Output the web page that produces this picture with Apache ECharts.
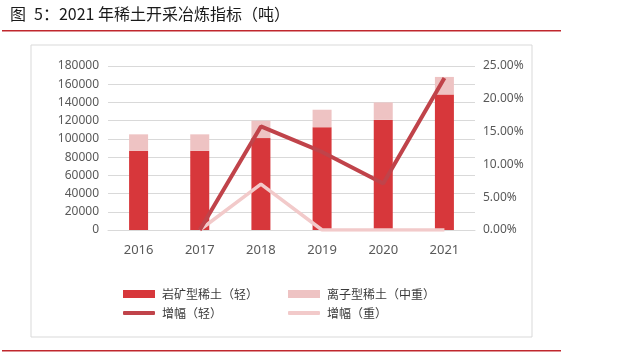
<!DOCTYPE html>
<html>
<head>
<meta charset="utf-8">
<script src="https://cdn.jsdelivr.net/npm/echarts@6/dist/echarts.min.js"></script>
<style>
  html, body { margin: 0; padding: 0; background: #fff; }
  #main { width: 640px; height: 353px; }
</style>
</head>
<body>
<div id="main"></div>
<script>
        // 数据
        var years = ['2016', '2017', '2018', '2019', '2020', '2021'];
        var rockLight = [87100, 87100, 100850, 112850, 120850, 148850];
        var ionHeavy = [17900, 17900, 19150, 19150, 19150, 19150];
        var growthLight = [null, 0, 0.1579, 0.1190, 0.0709, 0.2317];
        var growthHeavy = [null, 0, 0.0698, 0, 0, 0];

        var leftTicks = { min: 0, max: 180000, interval: 20000 };
        var rightTicks = { min: 0, max: 0.25, interval: 0.05 };

        var font = '"Noto Sans", "Noto Sans CJK SC", sans-serif';
        var cjk = '"Noto Sans CJK SC", sans-serif';

        var myChart = echarts.init(document.getElementById('main'));

        // 图例：上排柱，下排线
        var legendText = { fontFamily: cjk, fontSize: 12, color: '#3a3a3a', padding: [0, 0, 0, 2] };
        var makeLegend = function (name, left, top, h, icon) {
            return {
                left: left, top: top, padding: 0, itemGap: 0,
                itemWidth: 32, itemHeight: h, icon: icon,
                textStyle: legendText, data: [name]
            };
        };

        var option = {
            backgroundColor: '#fff',
            animation: false,
            textStyle: { fontFamily: font },
            graphic: [
                { type: 'text', left: 10, top: 6, style: { text: '图\u20025：2021 年稀土开采冶炼指标（吨）', font: '16px ' + cjk, fill: '#1a1a1a' } },
                { type: 'rect', shape: { x: 2, y: 30, width: 559, height: 1.5 }, style: { fill: '#c0272d' } },
                { type: 'rect', shape: { x: 31, y: 45, width: 501, height: 292 }, style: { fill: 'none', stroke: '#d9d9d9', lineWidth: 1 } },
                { type: 'rect', shape: { x: 2, y: 350, width: 559, height: 1.5 }, style: { fill: '#c0272d' } }
            ],
            grid: { left: 108, right: 165, top: 66, bottom: 123 },
            legend: [
                makeLegend('岩矿型稀土（轻）', 123, 288, 8, 'rect'),
                makeLegend('离子型稀土（中重）', 288, 288, 8, 'rect'),
                makeLegend('增幅（轻）', 123, 307, 4, 'roundRect'),
                makeLegend('增幅（重）', 288, 307, 4, 'roundRect')
            ],
            xAxis: {
                type: 'category',
                data: years,
                axisLine: { lineStyle: { color: '#d9d9d9' } },
                axisTick: { show: false },
                axisLabel: { color: '#595959', fontSize: 13, margin: 14 }
            },
            yAxis: [
                {
                    type: 'value',
                    min: leftTicks.min, max: leftTicks.max, interval: leftTicks.interval,
                    axisLine: { show: false },
                    axisTick: { show: false },
                    axisLabel: { color: '#595959', fontSize: 12, margin: 9, formatter: function (v) { return String(v); } },
                    splitLine: { lineStyle: { color: '#d9d9d9' } }
                },
                {
                    type: 'value',
                    min: rightTicks.min, max: rightTicks.max, interval: rightTicks.interval,
                    axisLine: { show: false },
                    axisTick: { show: false },
                    splitLine: { show: false },
                    axisLabel: {
                        color: '#595959', fontSize: 12, margin: 8,
                        formatter: function (v) { return (v * 100).toFixed(2) + '%'; }
                    }
                }
            ],
            series: [
                {
                    name: '岩矿型稀土（轻）', type: 'bar', stack: 'total',
                    barWidth: 19, data: rockLight,
                    itemStyle: { color: '#d7373b' }
                },
                {
                    name: '离子型稀土（中重）', type: 'bar', stack: 'total',
                    barWidth: 19, data: ionHeavy,
                    itemStyle: { color: '#eec3c3' }
                },
                {
                    name: '增幅（重）', type: 'line', yAxisIndex: 1,
                    data: growthHeavy, symbol: 'none', z: 3,
                    lineStyle: { color: '#f2caca', width: 3.5 },
                    itemStyle: { color: '#f2caca' }
                },
                {
                    name: '增幅（轻）', type: 'line', yAxisIndex: 1,
                    data: growthLight, symbol: 'none', z: 4,
                    lineStyle: { color: '#c0434a', width: 4 },
                    itemStyle: { color: '#c0434a' }
                }
            ]
        };

        myChart.setOption(option);
</script>
</body>
</html>
